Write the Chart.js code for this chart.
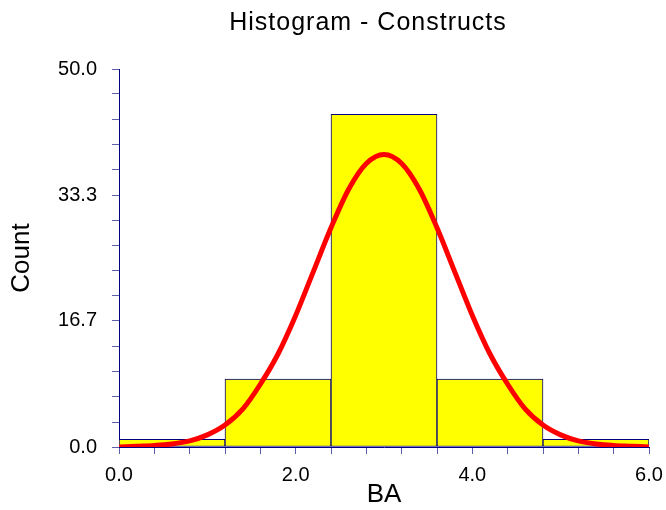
<!DOCTYPE html>
<html lang="en">
<head>
<meta charset="UTF-8">
<title>Histogram - Constructs</title>
<script src="https://cdn.jsdelivr.net/npm/chart.js"></script>
<style>
  html, body { margin: 0; padding: 0; background: #ffffff; }
</style>
</head>
<body>
<canvas id="hist" width="666" height="510"></canvas>
<script>
  const chartTitle = 'Histogram - Constructs';
  const xTitle = 'BA';
  const yTitle = 'Count';

  // histogram bins
  const binEdges = [0.0, 1.2, 2.4, 3.6, 4.8, 6.0];
  const binCounts = [1, 9, 44, 9, 1];

  // normal curve overlay, sampled every 0.2
  const curveX = [0.0, 0.2, 0.4, 0.6, 0.8, 1.0, 1.2, 1.4, 1.6, 1.8, 2.0, 2.2, 2.4, 2.6, 2.8, 3.0,
                  3.2, 3.4, 3.6, 3.8, 4.0, 4.2, 4.4, 4.6, 4.8, 5.0, 5.2, 5.4, 5.6, 5.8, 6.0];
  const curveY = [0.0, 0.1, 0.2, 0.4, 0.8, 1.6, 2.9, 5.0, 8.3, 12.3, 17.4, 23.2, 29.0, 34.1, 37.5, 38.7,
                  37.5, 34.1, 29.0, 23.2, 17.4, 12.3, 8.3, 5.0, 2.9, 1.6, 0.8, 0.4, 0.2, 0.1, 0.0];

  // axis ticks
  const xTicks = [0.0, 0.4, 0.8, 1.2, 1.6, 2.0, 2.4, 2.8, 3.2, 3.6, 4.0, 4.4, 4.8, 5.2, 5.6, 6.0];
  const xLabelled = [0.0, 2.0, 4.0, 6.0];
  const yTicks = [0.0, 3.3, 6.7, 10.0, 13.3, 16.7, 20.0, 23.3, 26.7, 30.0, 33.3, 36.7, 40.0, 43.3, 46.7, 50.0];
  const yLabelled = [0.0, 16.7, 33.3, 50.0];

  const FONT = "'Liberation Sans', Arial, sans-serif";
  const NAVY = '#000080';
  const TICK = '#5c5ca8';

  const bars = binCounts.map((c, i) => ({ x: (binEdges[i] + binEdges[i + 1]) / 2, y: c }));
  const curve = curveX.map((x, i) => ({ x: x, y: curveY[i] }));

  const titlePlugin = {
    id: 'topTitle',
    afterDraw(chart) {
      const ctx = chart.ctx;
      ctx.save();
      ctx.font = '25px ' + FONT;
      ctx.letterSpacing = '1px';
      ctx.fillStyle = '#000000';
      ctx.textAlign = 'center';
      ctx.textBaseline = 'alphabetic';
      ctx.fillText(chartTitle, 368, 30);
      ctx.restore();
    }
  };

  new Chart(document.getElementById('hist'), {
    type: 'bar',
    data: {
      datasets: [
        {
          type: 'line',
          data: curve,
          borderColor: '#ff0000',
          borderWidth: 5,
          pointRadius: 0,
          cubicInterpolationMode: 'monotone',
          fill: false,
          order: 0
        },
        {
          type: 'bar',
          data: bars,
          backgroundColor: '#ffff00',
          borderColor: NAVY,
          borderWidth: 1,
          borderSkipped: false,
          barThickness: 'flex',
          barPercentage: 1.0,
          categoryPercentage: 1.0,
          order: 1
        }
      ]
    },
    options: {
      responsive: false,
      animation: false,
      devicePixelRatio: 1,
      layout: { padding: { left: 0, right: 17, top: 69, bottom: 0 } },
      plugins: {
        legend: { display: false },
        tooltip: { enabled: false },
        title: { display: false }
      },
      scales: {
        x: {
          type: 'linear',
          min: 0,
          max: 6,
          offset: false,
          afterBuildTicks: s => { s.ticks = xTicks.map(v => ({ value: v })); },
          afterFit: s => { s.height = 63; s.paddingLeft = 0; s.paddingRight = 0; },
          grid: { display: true, drawOnChartArea: false, offset: false, tickLength: 7, tickColor: TICK },
          border: { display: true, color: NAVY, width: 1 },
          ticks: {
            autoSkip: false,
            maxRotation: 0,
            padding: 9,
            color: '#000000',
            font: { family: FONT, size: 20 },
            callback: v => xLabelled.some(t => Math.abs(t - v) < 1e-6) ? v.toFixed(1) : ''
          },
          title: {
            display: true,
            text: xTitle,
            color: '#000000',
            font: { family: FONT, size: 26 },
            padding: { top: 0, bottom: 0 }
          }
        },
        y: {
          min: 0,
          max: 50,
          afterBuildTicks: s => { s.ticks = yTicks.map(v => ({ value: v })); },
          afterFit: s => { s.width = 119; },
          grid: { display: true, drawOnChartArea: false, tickLength: 7, tickColor: TICK },
          border: { display: true, color: NAVY, width: 1 },
          ticks: {
            autoSkip: false,
            padding: 15,
            color: '#000000',
            font: { family: FONT, size: 20 },
            callback: v => yLabelled.some(t => Math.abs(t - v) < 1e-6) ? v.toFixed(1) : ''
          },
          title: {
            display: true,
            text: yTitle,
            color: '#000000',
            font: { family: FONT, size: 26 },
            padding: { top: 6, bottom: 0 }
          }
        }
      }
    },
    plugins: [titlePlugin]
  });
</script>
</body>
</html>
